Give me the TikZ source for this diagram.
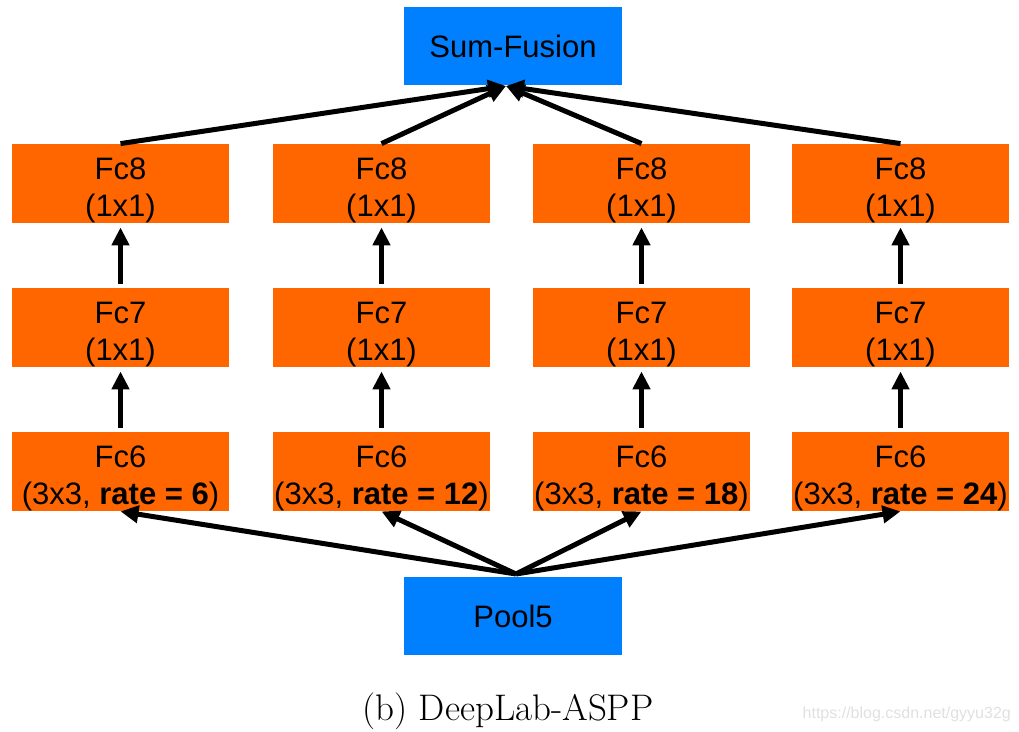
\documentclass[tikz,border=0pt]{standalone}
\usepackage{fontspec}
\newfontfamily\arialf{Liberation Sans}
\usetikzlibrary{arrows.meta}
\definecolor{boxblue}{RGB}{0,128,255}
\definecolor{boxorange}{RGB}{255,102,0}
\newcommand\twoline[2]{\rule{0pt}{36pt}#1\\#2}
\begin{document}
\begin{tikzpicture}[x=1pt,y=-1pt,
  layer/.style={fill=boxorange, minimum width=217pt, minimum height=79pt, inner sep=0pt, align=center, font=\arialf\fontsize{31}{37}\selectfont},
  io/.style={fill=boxblue, minimum width=218pt, minimum height=78pt, inner sep=0pt, font=\arialf\fontsize{31}{37}\selectfont},
  arr/.style={line width=5pt, -{Triangle[length=18pt,width=17pt]}},
  varr/.style={arr, line width=5.5pt, shorten <=4pt, shorten >=4pt}]
\useasboundingbox (0,0) rectangle (1019,731);
\node[io] (sum) at (513,46) {Sum-Fusion};
\node[io] (pool) at (513,616) {Pool5};
% column 1
\node[layer] (f8a) at (120.5,183.5) {\twoline{Fc8}{(1x1)}};
\node[layer] (f7a) at (120.5,327.5) {\twoline{Fc7}{(1x1)}};
\node[layer] (f6a) at (120.5,471.5) {\twoline{Fc6}{(3x3, \textbf{rate = 6})}};
% column 2
\node[layer] (f8b) at (381.5,183.5) {\twoline{Fc8}{(1x1)}};
\node[layer] (f7b) at (381.5,327.5) {\twoline{Fc7}{(1x1)}};
\node[layer] (f6b) at (381.5,471.5) {\twoline{Fc6}{(3x3, \textbf{rate = 12})}};
% column 3
\node[layer] (f8c) at (641.5,183.5) {\twoline{Fc8}{(1x1)}};
\node[layer] (f7c) at (641.5,327.5) {\twoline{Fc7}{(1x1)}};
\node[layer] (f6c) at (641.5,471.5) {\twoline{Fc6}{(3x3, \textbf{rate = 18})}};
% column 4
\node[layer] (f8d) at (900.5,183.5) {\twoline{Fc8}{(1x1)}};
\node[layer] (f7d) at (900.5,327.5) {\twoline{Fc7}{(1x1)}};
\node[layer] (f6d) at (900.5,471.5) {\twoline{Fc6}{(3x3, \textbf{rate = 24})}};
\coordinate (conv) at (506,86);
\coordinate (src) at (516,574);
% arrows
\foreach \c in {a,b,c,d}{
  \draw[varr] (f6\c.north) -- (f7\c.south);
  \draw[varr] (f7\c.north) -- (f8\c.south);
  \draw[arr] (f8\c.north) -- (conv);
  \draw[arr] (src) -- (f6\c.south);
}
\node[font=\fontsize{37}{44}\selectfont, anchor=base, inner sep=0pt] (cap) at (508,720) {(b) DeepLab-ASPP};
\node[font=\arialf\fontsize{16}{19}\selectfont, text=black!12, anchor=base east, inner sep=0pt] (wm) at (1011,718) {https://blog.csdn.net/gyyu32g};
\end{tikzpicture}
\end{document}
